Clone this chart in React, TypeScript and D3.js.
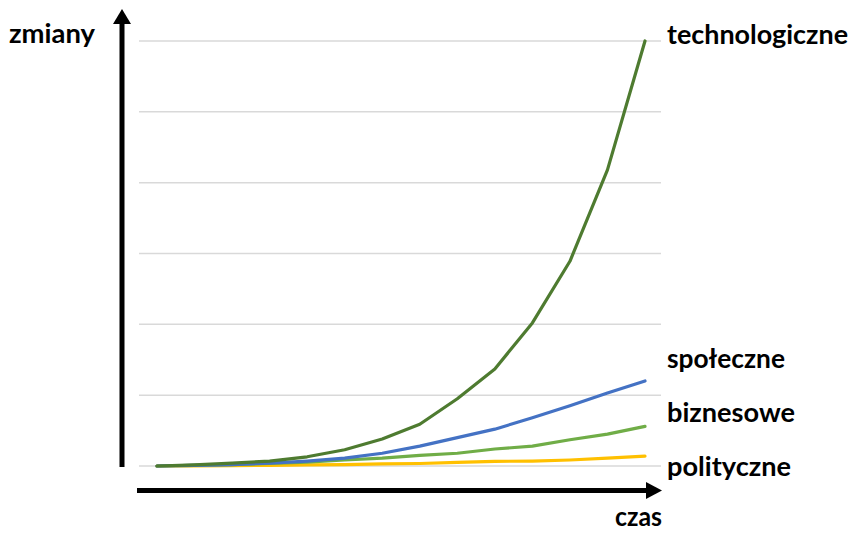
import React from "react";
import * as d3 from "d3";

const steps = [0, 1, 2, 3, 4, 5, 6, 7, 8, 9, 10, 11, 12, 13];
const gridTicks = [0, 1, 2, 3, 4, 5, 6];

const technologiczne = [0, 0.015, 0.04, 0.07, 0.13, 0.23, 0.38, 0.59, 0.95, 1.37, 2.02, 2.89, 4.18, 6.0];
const spoleczne = [0, 0.01, 0.02, 0.04, 0.07, 0.11, 0.18, 0.28, 0.4, 0.52, 0.68, 0.85, 1.03, 1.2];
const biznesowe = [0, 0.01, 0.02, 0.035, 0.055, 0.085, 0.11, 0.15, 0.18, 0.24, 0.28, 0.37, 0.45, 0.56];
const polityczne = [0, 0, 0.005, 0.01, 0.015, 0.02, 0.03, 0.035, 0.05, 0.065, 0.07, 0.085, 0.11, 0.14];

const seriesNames = ["polityczne", "biznesowe", "społeczne", "technologiczne"];
const seriesValues = [polityczne, biznesowe, spoleczne, technologiczne];
const seriesColors = ["#FFC000", "#70AD47", "#4472C4", "#4E7B30"];

const labelTexts = ["technologiczne", "społeczne", "biznesowe", "polityczne"];
const labelBaselines = [44, 368, 422, 476];
const labelWidths = [181, 118, 128, 124];

export default function App() {
  const W = 851;
  const H = 533;
  const x = d3.scaleLinear().domain([0, 13]).range([157, 645]);
  const y = d3.scaleLinear().domain([0, 6]).range([466, 41]);
  const line = d3
    .line<number>()
    .x((_, i) => x(steps[i]))
    .y((d) => y(d))
    .curve(d3.curveLinear);

  const font = "Lato, 'Open Sans', sans-serif";

  return (
    <svg
      width={W}
      height={H}
      viewBox={`0 0 ${W} ${H}`}
      style={{ position: "absolute", left: 0, top: 0, background: "#fff" }}
    >
      <rect x={0} y={0} width={W} height={H} fill="#fff" />
      {gridTicks.map((t) => (
        <line key={t} x1={139} x2={661} y1={y(t)} y2={y(t)} stroke="#d9d9d9" strokeWidth={1.5} />
      ))}
      {seriesValues.map((vals, i) => (
        <path
          key={seriesNames[i]}
          d={line(vals) || ""}
          fill="none"
          stroke={seriesColors[i]}
          strokeWidth={3.2}
          strokeLinejoin="round"
          strokeLinecap="round"
        />
      ))}
      {/* vertical axis arrow */}
      <line x1={122} x2={122} y1={467} y2={22} stroke="#000" strokeWidth={5} />
      <polygon points="122,9 113,24 131,24" fill="#000" />
      {/* horizontal axis arrow */}
      <line x1={137} x2={648} y1={490.5} y2={490.5} stroke="#000" strokeWidth={5} />
      <polygon points="662,490.5 646,482 646,499" fill="#000" />

      {labelTexts.map((t, i) => (
        <text
          key={t}
          x={667}
          y={labelBaselines[i]}
          fontFamily={font}
          fontWeight={700}
          fontSize={27.5}
          textLength={labelWidths[i]}
          lengthAdjust="spacingAndGlyphs"
          fill="#000"
        >
          {t}
        </text>
      ))}
      <text x={9} y={43} fontFamily={font} fontWeight={700} fontSize={27.5} textLength={86} lengthAdjust="spacingAndGlyphs" fill="#000">
        zmiany
      </text>
      <text x={615} y={526} fontFamily={font} fontWeight={700} fontSize={27.5} textLength={47} lengthAdjust="spacingAndGlyphs" fill="#000">
        czas
      </text>
    </svg>
  );
}
